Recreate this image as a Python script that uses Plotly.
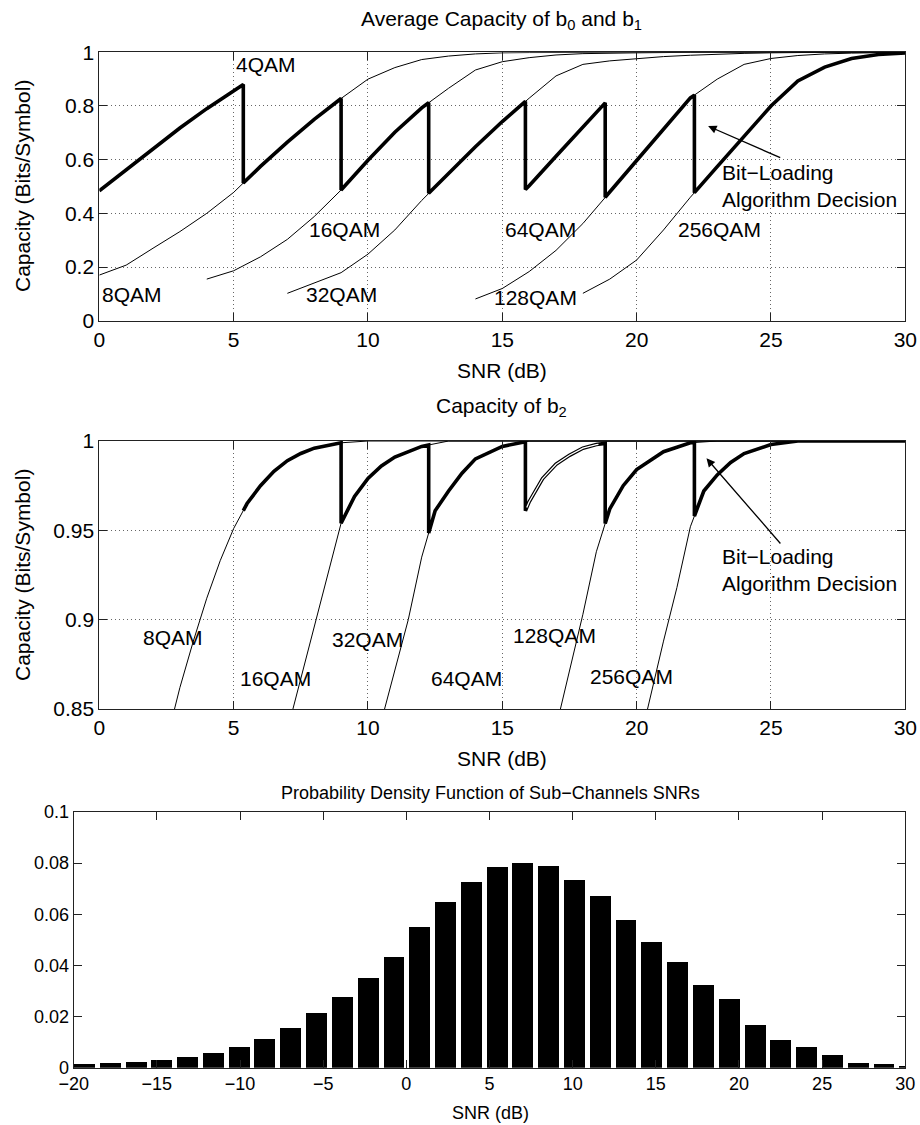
import numpy as np
import plotly.graph_objects as go

# ---------------- DATA ----------------
# Switching SNRs (dB) of the bit-loading algorithm
THRESHOLDS = [5.36, 9.0, 12.26, 15.86, 18.83, 22.15]

# Panel 1: average capacity of b0 and b1
A_4QAM_X = [0, 1, 2, 3, 4, 5, 6]
A_4QAM_Y = [0.484, 0.563, 0.641, 0.718, 0.790, 0.858, 0.920]
A_8QAM_X = [0, 1, 2, 3, 4, 5, 6, 7, 8, 9, 10, 11, 12, 13, 14, 15, 16, 18, 20, 30]
A_8QAM_Y = [0.170, 0.207, 0.270, 0.332, 0.400, 0.478, 0.575, 0.665, 0.750, 0.828,
            0.900, 0.943, 0.973, 0.986, 0.994, 0.998, 0.999, 1.0, 1.0, 1.0]
A_16QAM_X = [4, 5, 6, 7, 8, 9, 10, 11, 12, 13, 14, 15, 16, 17, 18, 19, 20, 22, 30]
A_16QAM_Y = [0.155, 0.186, 0.238, 0.303, 0.388, 0.487, 0.598, 0.702, 0.793, 0.866,
             0.934, 0.965, 0.980, 0.990, 0.995, 0.997, 0.998, 1.0, 1.0]
A_32QAM_X = [7, 8, 9, 10, 11, 12, 13, 14, 15, 16, 17, 18, 19, 20, 21, 22, 23, 24, 25, 27, 30]
A_32QAM_Y = [0.102, 0.142, 0.179, 0.248, 0.338, 0.448, 0.550, 0.648, 0.742, 0.829,
             0.912, 0.955, 0.968, 0.977, 0.984, 0.989, 0.993, 0.996, 0.998, 1.0, 1.0]
A_64QAM_X = [15, 16, 17, 18, 19]
A_64QAM_Y = [0.400, 0.503, 0.613, 0.722, 0.830]
A_128QAM_X = [14, 15, 16, 17, 18, 19, 20, 21, 22, 23, 24, 25, 26, 27, 28, 30]
A_128QAM_Y = [0.081, 0.120, 0.183, 0.262, 0.362, 0.480, 0.597, 0.714, 0.830, 0.900,
              0.955, 0.977, 0.988, 0.994, 0.997, 1.0]
A_256QAM_X = [18, 19, 20, 21, 22, 23, 24, 25, 26, 27, 28, 29, 30]
A_256QAM_Y = [0.102, 0.155, 0.226, 0.338, 0.460, 0.574, 0.686, 0.800, 0.893, 0.945,
              0.977, 0.992, 0.998]

# Panel 2: capacity of b2
B_8QAM_X = [2, 2.5, 3, 3.5, 4, 4.5, 5, 5.5, 6, 6.5, 7, 7.5, 8, 9, 10, 30]
B_8QAM_Y = [0.800, 0.832, 0.862, 0.888, 0.912, 0.933, 0.951, 0.965, 0.975, 0.983,
            0.989, 0.993, 0.996, 0.999, 1.0, 1.0]
B_16QAM_X = [6.5, 7, 7.5, 8, 8.5, 9, 9.5, 10, 10.5, 11, 12, 13, 30]
B_16QAM_Y = [0.809, 0.838, 0.866, 0.895, 0.925, 0.954, 0.969, 0.979, 0.986, 0.991,
             0.997, 1.0, 1.0]
B_32QAM_X = [10, 10.5, 11, 11.5, 12, 12.5, 13, 13.5, 14, 15, 16, 30]
B_32QAM_Y = [0.815, 0.843, 0.871, 0.900, 0.935, 0.961, 0.972, 0.982, 0.990, 0.997, 1.0, 1.0]
B_64QAM_X = [15.5, 16, 16.5, 17, 17.5, 18, 18.5, 19]
B_64QAM_Y = [0.948, 0.966, 0.979, 0.987, 0.992, 0.996, 0.998, 0.999]
B_128QAM_X = [16.5, 17, 17.5, 18, 18.5, 19, 19.5, 20, 21, 22, 23, 30]
B_128QAM_Y = [0.808, 0.840, 0.872, 0.903, 0.938, 0.962, 0.975, 0.984, 0.994, 0.999, 1.0, 1.0]
B_256QAM_X = [20, 20.5, 21, 21.5, 22, 22.5, 23, 23.5, 24, 25, 26, 30]
B_256QAM_Y = [0.824, 0.856, 0.888, 0.918, 0.952, 0.972, 0.981, 0.988, 0.993, 0.998, 1.0, 1.0]

# Panel 3: PDF of sub-channel SNRs (histogram bars)
PDF_SNR = [-19.37, -17.82, -16.27, -14.72, -13.17, -11.62, -10.07, -8.52, -6.97, -5.41,
           -3.86, -2.31, -0.76, 0.79, 2.34, 3.89, 5.44, 6.99, 8.54, 10.09, 11.64, 13.19,
           14.74, 16.29, 17.84, 19.40, 20.95, 22.50, 24.05, 25.60, 27.15, 28.70, 30.25]
PDF_VAL = [0.0016, 0.0018, 0.0022, 0.0030, 0.0040, 0.0056, 0.0080, 0.0111, 0.0155, 0.0215,
           0.0276, 0.0349, 0.0432, 0.0550, 0.0648, 0.0725, 0.0785, 0.0802, 0.0787, 0.0734,
           0.0671, 0.0576, 0.0493, 0.0413, 0.0325, 0.0270, 0.0167, 0.0110, 0.0080, 0.0051,
           0.0020, 0.0016, 0.0008]
BAR_WIDTH = 1.26

# ---------------- HELPERS ----------------
W, H = 920, 1125


def px_x(p):
    return p / W


def px_y(p):
    return 1 - p / H


def decision(curves, start, end, thresholds):
    bounds = [start] + list(thresholds) + [end]
    xs, ys = [], []
    for i, (cx, cy) in enumerate(curves):
        a, b = bounds[i], bounds[i + 1]
        xs.append(a)
        ys.append(float(np.interp(a, cx, cy)))
        for x, y in zip(cx, cy):
            if a < x < b:
                xs.append(x)
                ys.append(y)
        xs.append(b)
        ys.append(float(np.interp(b, cx, cy)))
    return xs, ys


def segment(cx, cy, a, b):
    xs = [a] + [x for x in cx if a < x < b] + [b]
    ys = [float(np.interp(x, cx, cy)) for x in xs]
    return xs, ys


FONT = "Liberation Sans, Arial, Helvetica, sans-serif"
fig = go.Figure()

thin = dict(color="black", width=1)
thick = dict(color="black", width=3.6)

# ---- Panel 1 ----
for cx, cy in [(A_8QAM_X, A_8QAM_Y), (A_16QAM_X, A_16QAM_Y), (A_32QAM_X, A_32QAM_Y),
               (A_128QAM_X, A_128QAM_Y), (A_256QAM_X, A_256QAM_Y)]:
    fig.add_trace(go.Scatter(x=cx, y=cy, mode="lines", line=thin, xaxis="x", yaxis="y",
                             showlegend=False, hoverinfo="skip"))
dx, dy = decision([(A_4QAM_X, A_4QAM_Y), (A_8QAM_X, A_8QAM_Y), (A_16QAM_X, A_16QAM_Y),
                   (A_32QAM_X, A_32QAM_Y), (A_64QAM_X, A_64QAM_Y), (A_128QAM_X, A_128QAM_Y),
                   (A_256QAM_X, A_256QAM_Y)], 0, 30, THRESHOLDS)
fig.add_trace(go.Scatter(x=dx, y=dy, mode="lines", line=thick, xaxis="x", yaxis="y",
                         showlegend=False, hoverinfo="skip"))

# ---- Panel 2 ----
for cx, cy in [(B_8QAM_X, B_8QAM_Y), (B_16QAM_X, B_16QAM_Y), (B_32QAM_X, B_32QAM_Y),
               (B_128QAM_X, B_128QAM_Y), (B_256QAM_X, B_256QAM_Y)]:
    fig.add_trace(go.Scatter(x=cx, y=cy, mode="lines", line=thin, xaxis="x2", yaxis="y2",
                             showlegend=False, hoverinfo="skip"))
dx, dy = decision([(B_8QAM_X, B_8QAM_Y), (B_16QAM_X, B_16QAM_Y), (B_32QAM_X, B_32QAM_Y),
                   (B_64QAM_X, B_64QAM_Y), (B_128QAM_X, B_128QAM_Y),
                   (B_256QAM_X, B_256QAM_Y)], THRESHOLDS[0], 30, THRESHOLDS[1:])
fig.add_trace(go.Scatter(x=dx, y=dy, mode="lines", line=thick, xaxis="x2", yaxis="y2",
                         showlegend=False, hoverinfo="skip"))
sx, sy = segment(B_64QAM_X, B_64QAM_Y, THRESHOLDS[3] + 0.05, THRESHOLDS[4] - 0.25)
fig.add_trace(go.Scatter(x=sx, y=sy, mode="lines", line=dict(color="white", width=1.3),
                         xaxis="x2", yaxis="y2", showlegend=False, hoverinfo="skip"))

# ---- Panel 3 ----
fig.add_trace(go.Bar(x=PDF_SNR, y=PDF_VAL, width=BAR_WIDTH, marker=dict(color="black", line=dict(width=0)),
                     xaxis="x3", yaxis="y3", showlegend=False, hoverinfo="skip"))

# ---------------- AXES ----------------
common = dict(showline=True, linecolor="#222", linewidth=1, mirror="ticks", ticks="inside",
              ticklen=8, tickcolor="#222", zeroline=False, automargin=False,
              tickfont=dict(family=FONT, size=21, color="black"))
grid = dict(showgrid=True, gridcolor="#666", griddash="1px,3px", gridwidth=1)
small = dict(family=FONT, size=18, color="black")

xd = [px_x(99.3), px_x(905.3)]
fig.update_layout(
    width=W, height=H, margin=dict(l=0, r=0, t=0, b=0, autoexpand=False),
    paper_bgcolor="white", plot_bgcolor="white",
    font=dict(family=FONT, color="black"),
    bargap=0,
    xaxis=dict(domain=xd, range=[0, 30], dtick=5, tick0=0, anchor="y", **common, **grid),
    yaxis=dict(domain=[px_y(320.7), px_y(52.3)], range=[0, 1], dtick=0.2, tick0=0,
               anchor="x", **common, **grid),
    xaxis2=dict(domain=xd, range=[0, 30], dtick=5, tick0=0, anchor="y2", **common, **grid),
    yaxis2=dict(domain=[px_y(709), px_y(441)], range=[0.85, 1], dtick=0.05, tick0=0.85,
                anchor="x2", **common, **grid),
    xaxis3=dict(domain=[px_x(73.7), px_x(905.3)], range=[-20, 30], dtick=5, tick0=-20,
                anchor="y3", showgrid=False, **{**common, "tickfont": small}),
    yaxis3=dict(domain=[px_y(1067.7), px_y(812)], range=[0, 0.1], dtick=0.02, tick0=0,
                anchor="x3", showgrid=False, **{**common, "tickfont": small}),
)

# ---------------- TEXT ----------------
ann = []


def paper_text(text, xp, yp, size, angle=0):
    ann.append(dict(text=text, x=px_x(xp), y=px_y(yp), xref="paper", yref="paper",
                    showarrow=False, xanchor="center", yanchor="middle", textangle=angle,
                    font=dict(family=FONT, size=size, color="black")))


paper_text("Average Capacity of b<sub>0</sub> and b<sub>1</sub>", 502, 20, 21)
paper_text("SNR (dB)", 502, 370, 21)
paper_text("Capacity of b<sub>2</sub>", 502, 407, 21)
paper_text("SNR (dB)", 502, 758, 21)
paper_text("Probability Density Function of Sub\u2212Channels SNRs", 490, 793, 18)
paper_text("SNR (dB)", 490, 1113, 18)
paper_text("Capacity (Bits/Symbol)", 22, 186, 21, -90)
paper_text("Capacity (Bits/Symbol)", 22, 575, 21, -90)


def data_text(text, x, y, xr, yr, anchor="center"):
    ann.append(dict(text=text, x=x, y=y, xref=xr, yref=yr, showarrow=False,
                    xanchor=anchor, yanchor="middle", align="left",
                    font=dict(family=FONT, size=21, color="black")))


for t, x, y in [("4QAM", 6.2, 0.953), ("8QAM", 1.22, 0.096), ("16QAM", 9.14, 0.338),
                ("32QAM", 9.03, 0.096), ("64QAM", 16.44, 0.338), ("128QAM", 16.22, 0.085),
                ("256QAM", 23.08, 0.338)]:
    data_text(t, x, y, "x", "y")
for t, x, y in [("8QAM", 2.75, 0.890), ("16QAM", 6.54, 0.867), ("32QAM", 10.0, 0.889),
                ("64QAM", 13.65, 0.867), ("128QAM", 16.96, 0.8914), ("256QAM", 19.8, 0.868)]:
    data_text(t, x, y, "x2", "y2")

data_text("Bit\u2212Loading<br>Algorithm Decision", 23.1, 0.502, "x", "y", anchor="left")
data_text("Bit\u2212Loading<br>Algorithm Decision", 23.1, 0.9276, "x2", "y2", anchor="left")

for (hx, hy, tx, ty, xr, yr) in [(22.66, 0.725, 25.4, 0.605, "x", "y"),
                                 (22.6, 0.9903, 25.4, 0.9418, "x2", "y2")]:
    ann.append(dict(x=hx, y=hy, ax=tx, ay=ty, xref=xr, yref=yr, axref=xr, ayref=yr,
                    text="", showarrow=True, arrowhead=2, arrowsize=1.3, arrowwidth=1.3,
                    arrowcolor="black", standoff=0, startstandoff=0))

fig.update_layout(annotations=ann)
fig.write_html("out.html")
